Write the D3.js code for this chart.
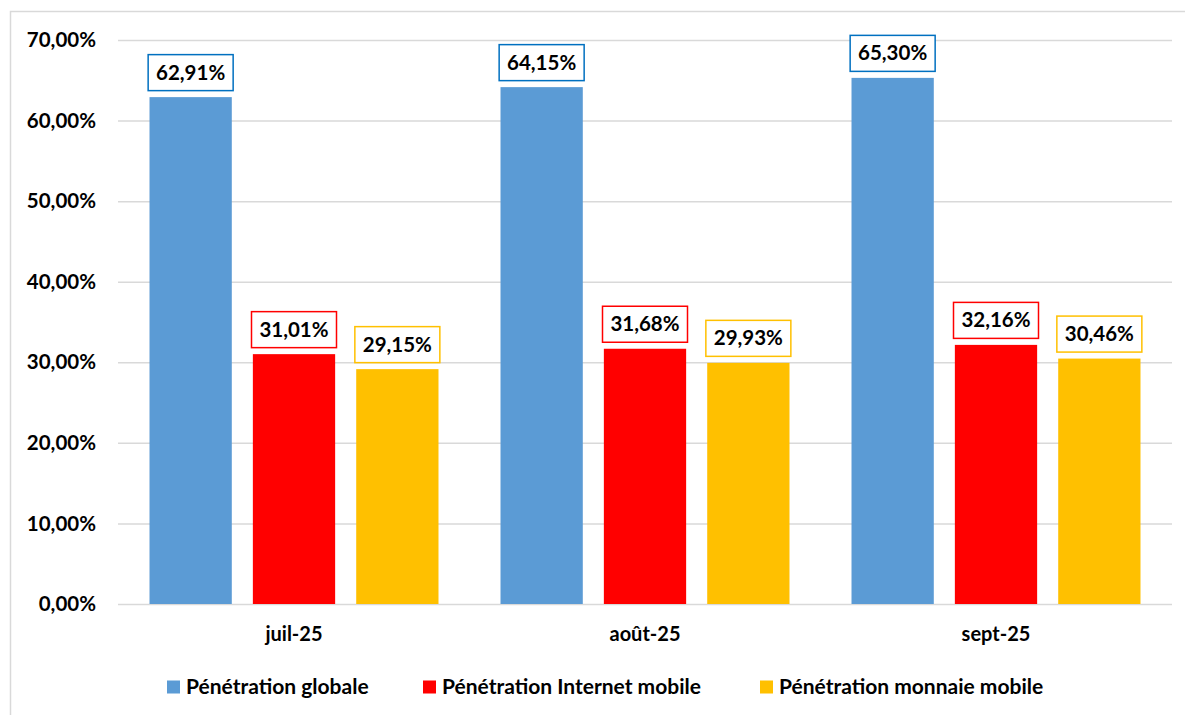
<!DOCTYPE html>
<html>
<head>
<meta charset="utf-8">
<script src="https://cdn.jsdelivr.net/npm/d3@7"></script>
<style>
  body { margin: 0; background: #fff; }
  text { font-family: Lato, "Open Sans", sans-serif; font-weight: bold; fill: #000; }
</style>
</head>
<body>
<div id="chartContainer"></div>
<script>
var months = ["juil-25", "août-25", "sept-25"];
var seriesNames = ["Pénétration globale", "Pénétration Internet mobile", "Pénétration monnaie mobile"];
var globale = [62.91, 64.15, 65.30];
var internet = [31.01, 31.68, 32.16];
var monnaie = [29.15, 29.93, 30.46];
var yTicks = [0, 10, 20, 30, 40, 50, 60, 70];

var width = 1185, height = 715;
var barColors = ["#5B9BD5", "#FF0000", "#FFC000"];
var boxColors = ["#0070C0", "#FF0000", "#FFC000"];
var seriesValues = [globale, internet, monnaie];

var svg = d3.select('#chartContainer').append('svg')
  .attr("width", width).attr("height", height);

// chart frame
svg.append("rect").attr("x", 10.5).attr("y", 11.5)
  .attr("width", 1200).attr("height", 720)
  .attr("fill", "none").attr("stroke", "#d9d9d9").attr("stroke-width", 1.5);

var x0 = d3.scaleBand().domain(months).range([118.5, 1171.5]).paddingInner(0).paddingOuter(0);
var x1 = d3.scaleBand().domain(d3.range(3)).range([0, x0.bandwidth()])
  .paddingInner(21 / 103).paddingOuter(0.3);
var y = d3.scaleLinear().domain([0, 70]).range([604, 40]);

var fmt = function(v) { return v.toFixed(2).replace(".", ",") + "%"; };

// gridlines
svg.append("g").selectAll("line").data(yTicks).join("line")
  .attr("x1", 118).attr("x2", 1172)
  .attr("y1", d => y(d) + 0.5).attr("y2", d => y(d) + 0.5)
  .attr("stroke", "#d9d9d9").attr("stroke-width", 1.5);

// y axis labels
svg.append("g").selectAll("text").data(yTicks).join("text")
  .attr("x", 96).attr("y", d => y(d))
  .attr("dy", "0.35em").attr("text-anchor", "end")
  .style("font-size", "20.5px")
  .text(d => fmt(d));

// bars
var groups = svg.append("g").selectAll("g").data(months).join("g")
  .attr("transform", d => "translate(" + x0(d) + ",0)");

groups.each(function(m, mi) {
  var g = d3.select(this);
  for (var s = 0; s < 3; s++) {
    var v = seriesValues[s][mi];
    var bx = x1(s), bw = x1.bandwidth();
    g.append("rect").attr("x", bx).attr("y", y(v))
      .attr("width", bw).attr("height", y(0) - y(v))
      .attr("fill", barColors[s]);
    var boxW = 86, boxH = 36;
    var cx = bx + bw / 2;
    g.append("rect").attr("x", cx - boxW / 2 + 0.5).attr("y", y(v) - 7 - boxH + 0.5)
      .attr("width", boxW - 1).attr("height", boxH)
      .attr("fill", "#fff").attr("stroke", boxColors[s]).attr("stroke-width", 1.5);
    g.append("text").attr("x", cx).attr("y", y(v) - 7 - boxH / 2)
      .attr("dy", "0.36em").attr("text-anchor", "middle")
      .style("font-size", "20.5px")
      .text(fmt(v));
  }
});

// category labels
svg.append("g").selectAll("text").data(months).join("text")
  .attr("x", d => x0(d) + x0.bandwidth() / 2).attr("y", 634)
  .attr("dy", "0.35em").attr("text-anchor", "middle")
  .style("font-size", "20px")
  .text(d => d);

// legend
var legendX = [167, 423, 760];
var legend = svg.append("g").selectAll("g").data(seriesNames).join("g")
  .attr("transform", (d, i) => "translate(" + legendX[i] + ",687)");
legend.append("rect").attr("x", 0).attr("y", -6.5).attr("width", 13).attr("height", 13)
  .attr("fill", (d, i) => barColors[i]);
legend.append("text").attr("x", 19).attr("y", 0).attr("dy", "0.35em")
  .style("font-size", "21px")
  .text(d => d);
</script>
</body>
</html>
